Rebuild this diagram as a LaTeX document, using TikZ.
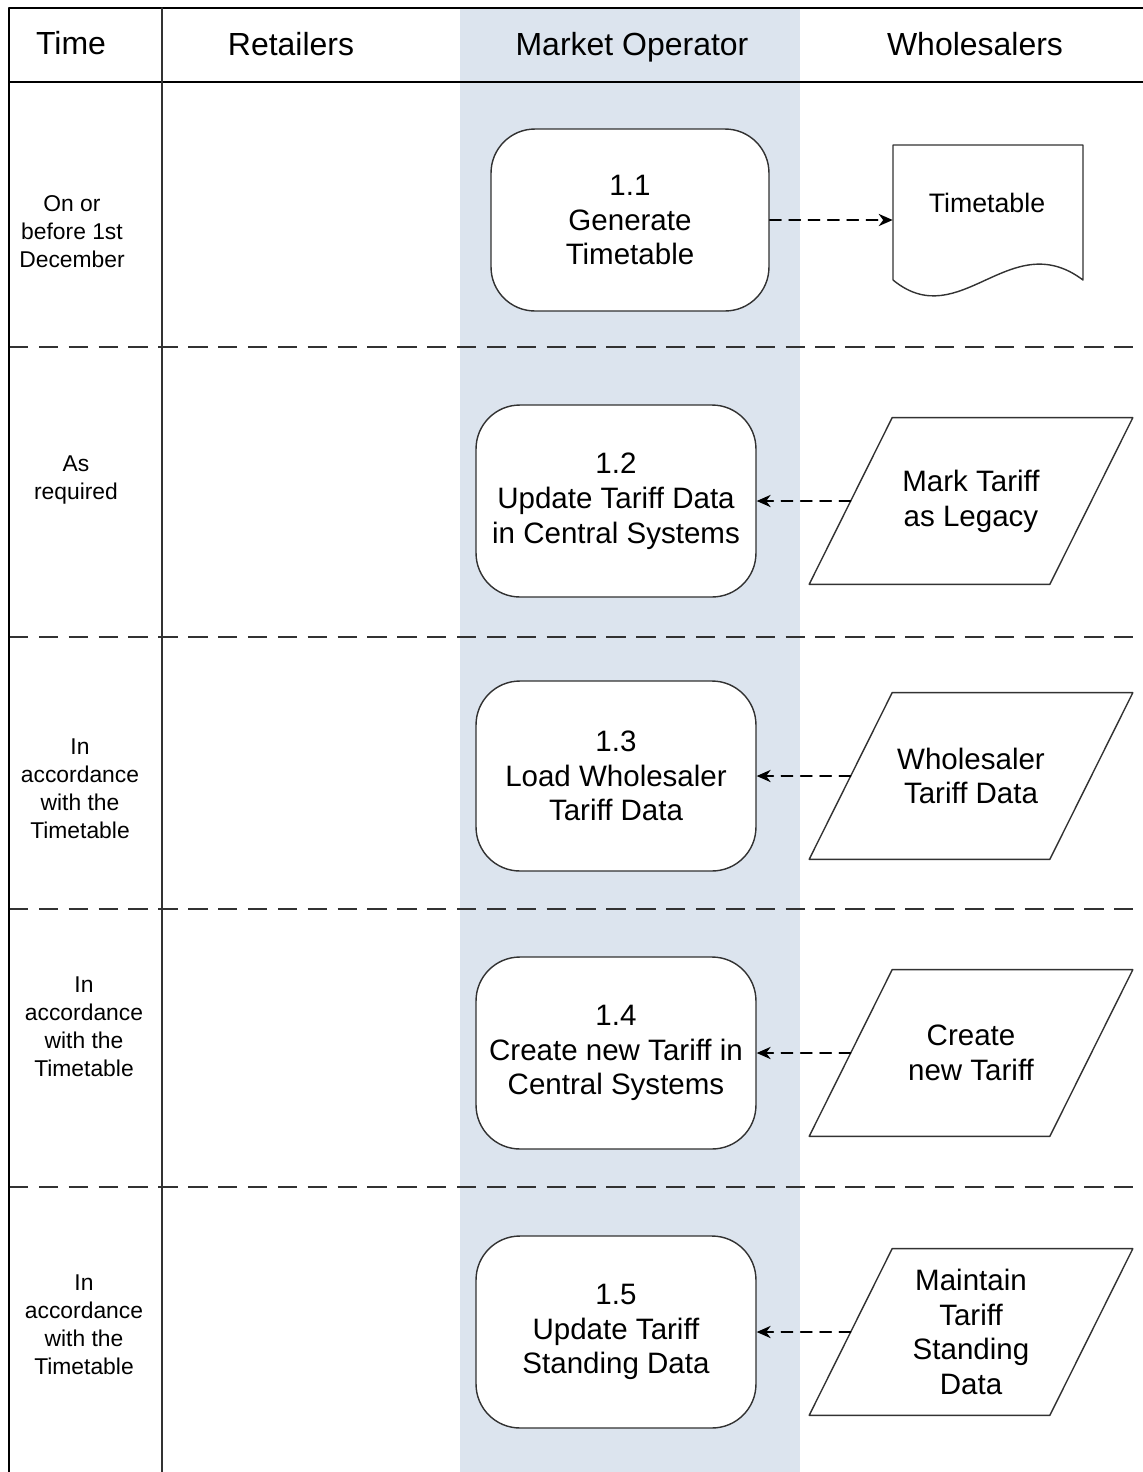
\documentclass[tikz,border=0pt]{standalone}
\usepackage{fontspec}
\setmainfont{Liberation Sans}
\usetikzlibrary{arrows.meta}

\definecolor{laneblue}{RGB}{220,228,238}
\definecolor{edge}{RGB}{50,50,50}

\begin{document}
\begin{tikzpicture}[line cap=round,line join=round,x=0.02cm,y=-0.02cm,
    head/.style={anchor=base,font=\fontsize{18.2}{22}\selectfont},
    when/.style={align=center,font=\fontsize{13}{15.9}\selectfont},
    proc/.style={draw=edge,fill=white,line width=0.8pt,rounded corners=25pt,
      minimum width=5.6cm,minimum height=3.84cm,align=center,
      font=\fontsize{16.8}{19.8}\selectfont},
    data/.style={minimum width=3.14cm,minimum height=3.32cm,inner sep=0pt,align=center,
      font=\fontsize{16.8}{19.8}\selectfont},
    dataedge/.style={draw=edge,line width=0.8pt},
    flow/.style={dash pattern=on 6.5pt off 4.5pt,line width=0.8pt,
      -{Stealth[length=8pt,width=7pt]}},
    sep/.style={dash pattern=on 11pt off 6pt,line width=1pt,draw=edge}]
  \useasboundingbox (0,0) rectangle (1143,1472);

  % lanes
  \fill[laneblue] (460,8) rectangle (800,1472);
  \foreach \y in {347,637,909,1187}
    \draw[sep,line cap=butt] (9,\y) -- (1143,\y);
  \draw[line width=1.1pt] (9,1472) -- (9,8) -- (1143,8);
  \draw[line width=1.1pt] (9,82) -- (1143,82);
  \draw[line width=1.1pt,draw=edge] (162,8) -- (162,1472);

  % headers
  \node[head] (hTime) at (71,54) {Time};
  \node[head] (hRet) at (291,55) {Retailers};
  \node[head] (hMO) at (632,55) {Market Operator};
  \node[head] (hWh) at (975,55) {Wholesalers};

  % time column
  \node[when] (t1) at (72,232) {On or\\before 1st\\December};
  \node[when] (t2) at (76,480) {As\\required};
  \node[when] (t3) at (80,789) {In\\accordance\\with the\\Timetable};
  \node[when] (t4) at (84,1027) {In\\accordance\\with the\\Timetable};
  \node[when] (t5) at (84,1325) {In\\accordance\\with the\\Timetable};

  % processes
  \node[proc,minimum width=5.56cm,minimum height=3.64cm] (p11) at (630,220) {1.1\\Generate\\Timetable};
  \node[proc] (p12) at (616,501) {1.2\\Update Tariff Data\\in Central Systems};
  \node[proc,minimum height=3.8cm] (p13) at (616,776) {1.3\\Load Wholesaler\\Tariff Data};
  \node[proc] (p14) at (616,1053) {1.4\\Create new Tariff in\\Central Systems};
  \node[proc] (p15) at (616,1332) {1.5\\Update Tariff\\Standing Data};

  % document
  \draw[draw=edge,fill=white,line width=0.8pt] (893,280) -- (893,145) -- (1083,145) -- (1083,280)
    .. controls (1010,225) and (960,335) .. (893,280);
  \node[minimum width=3.8cm,minimum height=2.72cm] (tt) at (988,213) {};
  \node[font=\fontsize{15.2}{18}\selectfont] (ttl) at (987,203) {Timetable};

  % wholesaler inputs
  \node[data] (d12) at (971,501) {Mark Tariff\\as Legacy};
  \node[data] (d13) at (971,776) {Wholesaler\\Tariff Data};
  \node[data] (d14) at (971,1053) {Create\\new Tariff};
  \node[data] (d15) at (971,1332) {Maintain\\Tariff\\Standing\\Data};
  \foreach \n in {d12,d13,d14,d15}
    \draw[dataedge] ([xshift=-1.66cm]\n.south west) -- (\n.north west)
      -- ([xshift=1.66cm]\n.north east) -- (\n.south east) -- cycle;

  % flows
  \draw[flow] (p11.east) -- (p11.east -| tt.west);
  \draw[flow] ([xshift=-0.83cm]d12.west) -- (p12.east);
  \draw[flow] ([xshift=-0.83cm]d13.west) -- (p13.east);
  \draw[flow] ([xshift=-0.83cm]d14.west) -- (p14.east);
  \draw[flow] ([xshift=-0.83cm]d15.west) -- (p15.east);
\end{tikzpicture}
\end{document}
